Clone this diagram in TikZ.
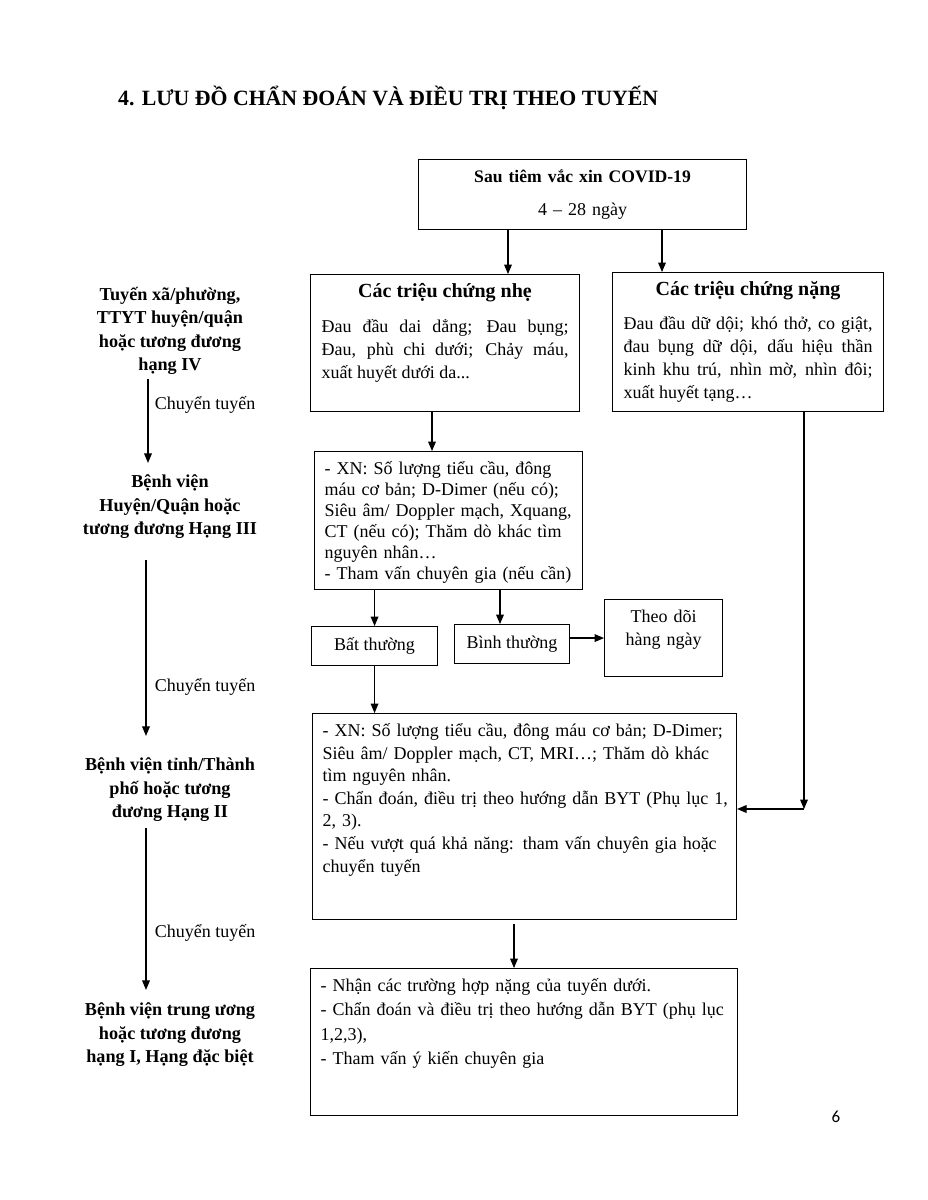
\documentclass[tikz,border=0pt]{standalone}
\usepackage{fontspec}
\setmainfont{Liberation Serif}
\newfontfamily\pagenofont{Carlito}
\usetikzlibrary{arrows, calc}

\tikzset{
  box/.style={draw, line width=1.1pt, anchor=north west, inner xsep=10pt, inner ysep=6pt,
    text height=17pt, font=\fontsize{18}{23}\selectfont},
  smallbox/.style={draw, line width=1.1pt, anchor=north west, inner sep=0pt, align=center,
    font=\fontsize{18}{23}\selectfont},
  tier/.style={align=center, inner sep=2pt, font=\bfseries\fontsize{18.2}{23.5}\selectfont},
  arr/.style={->, line width=1.2pt},
}

\begin{document}
\hyphenpenalty=10000 \exhyphenpenalty=10000
\begin{tikzpicture}[line join=miter,>=triangle 45,x=1pt,y=-1pt]
\useasboundingbox (0,0) rectangle (927,1200);

\coordinate (turn) at (804,809);

\node[anchor=west, inner sep=0pt, font=\bfseries\fontsize{21.8}{26}\selectfont] (title) at (118,98)
  {4. LƯU ĐỒ CHẨN ĐOÁN VÀ ĐIỀU TRỊ THEO TUYẾN};

\node[box, align=center, text width=308pt, text depth=41pt] (covid) at (418,159)
  {{\fontsize{17.6}{23}\selectfont\bfseries Sau tiêm vắc xin COVID-19}\\[10pt]4 -- 28 ngày};
\node[box, inner xsep=11pt, align=justify, text width=247pt, text depth=108pt] (mild) at (310,274)
  {{\centering\fontsize{20}{23}\selectfont\bfseries Các triệu chứng nhẹ\par}\vspace{12pt}Đau đầu dai dẳng; Đau bụng;\linebreak
   Đau, phù chi dưới; Chảy máu,\linebreak xuất huyết dưới da...};
\node[box, inner xsep=11pt, align=justify, text width=249pt, text depth=110pt] (severe) at (612,272)
  {{\centering\fontsize{20}{23}\selectfont\bfseries Các triệu chứng nặng\par}\vspace{11pt}Đau đầu dữ dội; khó thở, co giật,\linebreak
   đau bụng dữ dội, dấu hiệu thần\linebreak kinh khu trú, nhìn mờ, nhìn đôi;\linebreak xuất huyết tạng…};
\node[box, align=left, text width=248pt, text depth=109pt, font=\fontsize{18}{21}\selectfont] (xn) at (314,451)
  {- XN: Số lượng tiểu cầu, đông\\máu cơ bản; D-Dimer (nếu có);\\Siêu âm/ Doppler mạch, Xquang,\\
   CT (nếu có); Thăm dò khác tìm\\nguyên nhân…\\- Tham vấn chuyên gia (nếu cần)};
\node[smallbox, minimum width=126pt, minimum height=39pt] (bat) at (311,626) {Bất thường};
\node[smallbox, minimum width=115pt, minimum height=39pt] (binh) at (454,624) {Bình thường};
\node[box, align=center, text width=98pt, text depth=48pt] (theo) at (604,599) {Theo dõi\\hàng ngày};
\node[box, align=left, text width=404pt, text depth=177pt, font=\fontsize{18}{22.6}\selectfont] (big) at (312,713)
  {- XN: Số lượng tiểu cầu, đông máu cơ bản; D-Dimer;\\Siêu âm/ Doppler mạch, CT, MRI…; Thăm dò khác\\
   tìm nguyên nhân.\\\mbox{- Chẩn đoán, điều trị theo hướng dẫn BYT (Phụ lục 1,}\\2, 3).\\
   - Nếu vượt quá khả năng: tham vấn chuyên gia hoặc\\chuyển tuyến};
\node[box, align=left, text width=407pt, text depth=118pt, font=\fontsize{18}{24.3}\selectfont] (bottom) at (310,968)
  {- Nhận các trường hợp nặng của tuyến dưới.\\- Chẩn đoán và điều trị theo hướng dẫn BYT (phụ lục\\
   1,2,3),\\- Tham vấn ý kiến chuyên gia};

\node[tier] (l1) at (170,331) {Tuyến xã/phường,\\TTYT huyện/quận\\hoặc tương đương\\hạng IV};
\node[tier] (l2) at (170,507) {Bệnh viện\\Huyện/Quận hoặc\\tương đương Hạng III};
\node[tier] (l3) at (170,790) {Bệnh viện tỉnh/Thành\\phố hoặc tương\\đương Hạng II};
\node[tier] (l4) at (170,1035) {Bệnh viện trung ương\\hoặc tương đương\\hạng I, Hạng đặc biệt};

\node[font=\pagenofont\fontsize{17}{20}\selectfont] (pageno) at (836,1117) {6};

\draw[arr] (covid.south -| 508,0) -- (mild.north -| 508,0);
\draw[arr] (covid.south -| 662,0) -- (severe.north -| 662,0);
\draw[arr] (mild.south -| 432,0) -- (xn.north -| 432,0);
\draw[arr] (xn.south -| bat.north) -- (bat.north);
\draw[arr] (xn.south -| 500,0) -- (binh.north -| 500,0);
\draw[arr] (binh.east |- theo.west) -- (theo.west);
\draw[arr] (bat.south) -- (bat.south |- big.north);
\draw[arr] (severe.south -| turn) -- (turn);
\draw[arr] (turn) -- (turn -| big.east);
\draw[arr] ($(big.south -| 514,0)+(0,4)$) -- (bottom.north -| 514,0);

\draw[arr] ($(l1.south)+(-22,2)$) -- node[pos=0.31, right=3pt, font=\fontsize{18}{23}\selectfont] (c1) {Chuyển tuyến} ($(l2.north)+(-22,-10)$);
\draw[arr] ($(l2.south)+(-24,19)$) -- node[pos=0.72, right=5pt, font=\fontsize{18}{23}\selectfont] (c2) {Chuyển tuyến} ($(l3.north)+(-24,-20)$);
\draw[arr] ($(l3.south)+(-24,4)$) -- node[pos=0.65, right=5pt, font=\fontsize{18}{23}\selectfont] (c3) {Chuyển tuyến} ($(l4.north)+(-24,-11)$);
\end{tikzpicture}
\end{document}
